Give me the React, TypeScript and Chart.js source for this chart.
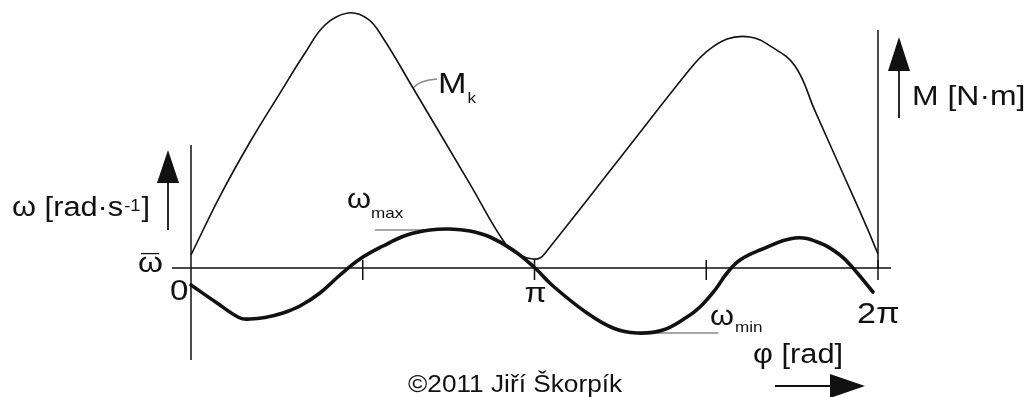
import React, { useEffect, useRef } from "react";
import { Chart, registerables } from "chart.js";

Chart.register(...registerables);

// Crank angle φ in multiples of π for the torque curve M_k
const phiM = [0, 0.0844, 0.1718, 0.2591, 0.3319, 0.3901, 0.4571, 0.5153, 0.559, 0.6463, 0.8122, 0.9199, 0.9636, 0.9956, 1.016, 1.0335, 1.2489, 1.4527, 1.4964, 1.5604, 1.6274, 1.6856, 1.7584, 1.8166, 1.8894, 1.9622, 2.0];
// Engine torque M_k (relative units)
const torque = [5.1, 28.2, 49.4, 68.6, 84.3, 95.3, 100, 97.6, 90.2, 70.6, 32.9, 8.6, 4.7, 3.5, 3.9, 6.3, 43.1, 78.0, 84.3, 89.8, 90.6, 87.1, 79.2, 61.6, 39.6, 17.6, 5.5];
// Index of the torque point carrying the M_k label
const torqueLabelIndex = 9;

// Crank angle φ in multiples of π for the angular velocity curve
const phiW = [0, 0.0757, 0.1426, 0.1718, 0.2154, 0.2678, 0.3173, 0.3755, 0.4338, 0.492, 0.559, 0.6288, 0.6958, 0.754, 0.8122, 0.8705, 0.9374, 1.0015, 1.0539, 1.1528, 1.2285, 1.2984, 1.3741, 1.444, 1.4818, 1.5255, 1.5604, 1.5983, 1.6565, 1.7584, 1.8311, 1.8894, 1.9272, 1.9854];
// Deviation of ω from the mean ω̄ (relative units)
const omegaDev = [-1.7, -3.5, -5.0, -5.1, -4.95, -4.5, -3.8, -2.5, -0.7, 0.9, 2.2, 3.3, 3.8, 3.9, 3.7, 3.1, 1.8, 0, -1.8, -4.5, -6.0, -6.5, -6.2, -4.9, -3.9, -2.2, -0.5, 0.8, 1.8, 3.0, 2.5, 1.3, 0, -2.4];

// Tick marks on the φ axis (multiples of π) and their labels
const tickValues = [0.5, 1, 1.5, 2];
const tickLabels = ["0", "π", "2π"];

// Extent of the vertical axes
const omegaAxisRange = [-9.2, 12.3];
const torqueAxisTop = 93.3;

const FONT = '"Liberation Sans", Arial, sans-serif';
const SX = 1.14; // horizontal stretch of the lettering
const INK = "#111";
const LEADER = "#8a8a8a";

function txt(ctx: CanvasRenderingContext2D, s: string, x: number, y: number, size: number, align: "left" | "center" = "left") {
  ctx.save();
  ctx.font = `${size}px ${FONT}`;
  const w = ctx.measureText(s).width * SX;
  const left = align === "center" ? x - w / 2 : x;
  ctx.translate(left, y);
  ctx.scale(SX, 1);
  ctx.textAlign = "left";
  ctx.textBaseline = "alphabetic";
  ctx.fillStyle = INK;
  ctx.fillText(s, 0, 0);
  ctx.restore();
  return left + w;
}

function arrow(ctx: CanvasRenderingContext2D, x1: number, y1: number, x2: number, y2: number, head: number, half: number) {
  const dx = x2 - x1, dy = y2 - y1;
  const len = Math.hypot(dx, dy);
  const ux = dx / len, uy = dy / len;
  const bx = x2 - ux * head, by = y2 - uy * head;
  ctx.beginPath();
  ctx.moveTo(x1, y1);
  ctx.lineTo(bx, by);
  ctx.stroke();
  ctx.beginPath();
  ctx.moveTo(x2, y2);
  ctx.lineTo(bx - uy * half, by + ux * half);
  ctx.lineTo(bx + uy * half, by - ux * half);
  ctx.closePath();
  ctx.fill();
}

const diagramPlugin = {
  id: "diagram",
  beforeDatasetsDraw(chart: any) {
    const ctx: CanvasRenderingContext2D = chart.ctx;
    const x = chart.scales.x, yW = chart.scales.yW, yM = chart.scales.yM;
    const x0 = x.getPixelForValue(0), x2 = x.getPixelForValue(2);
    const y0 = yW.getPixelForValue(0);
    ctx.save();
    ctx.strokeStyle = INK;
    ctx.fillStyle = INK;
    ctx.lineWidth = 1.5;
    // φ axis
    ctx.beginPath();
    ctx.moveTo(x0 - 19, y0);
    ctx.lineTo(x2 + 13, y0);
    // ω axis
    ctx.moveTo(x0, yW.getPixelForValue(omegaAxisRange[1]));
    ctx.lineTo(x0, yW.getPixelForValue(omegaAxisRange[0]));
    // M axis
    ctx.moveTo(x2, yM.getPixelForValue(torqueAxisTop));
    ctx.lineTo(x2, y0);
    ctx.stroke();
    // ticks
    ctx.beginPath();
    tickValues.forEach((v) => {
      const px = x.getPixelForValue(v);
      ctx.moveTo(px, y0 - 8);
      ctx.lineTo(px, y0 + 12);
    });
    ctx.stroke();
    // arrows
    ctx.lineWidth = 1.8;
    arrow(ctx, x0 - 23, y0 - 38, x0 - 23, y0 - 118, 33, 11);
    arrow(ctx, x2 + 21, y0 - 150, x2 + 21, y0 - 231, 34, 11);
    arrow(ctx, x2 - 103, y0 + 118, x2 - 13, y0 + 118, 35, 12);

    // leader lines
    ctx.strokeStyle = LEADER;
    ctx.lineWidth = 1.5;
    const iMax = omegaDev.indexOf(Math.max(...omegaDev));
    const iMin = omegaDev.indexOf(Math.min(...omegaDev));
    const yMax = yW.getPixelForValue(omegaDev[iMax]);
    const yMin = yW.getPixelForValue(omegaDev[iMin]);
    ctx.beginPath();
    ctx.moveTo(x.getPixelForValue(0.535), yMax + 1);
    ctx.lineTo(x.getPixelForValue(phiW[iMax]) - 25, yMax + 1);
    ctx.moveTo(x.getPixelForValue(phiW[iMin]), yMin);
    ctx.lineTo(x.getPixelForValue(1.535), yMin);
    const mx = x.getPixelForValue(phiM[torqueLabelIndex]);
    const my = yM.getPixelForValue(torque[torqueLabelIndex]);
    ctx.moveTo(mx, my);
    ctx.quadraticCurveTo(mx + 7, my - 8, mx + 24, my - 9);
    ctx.stroke();
    ctx.restore();
  },
  afterDatasetsDraw(chart: any) {
    const ctx: CanvasRenderingContext2D = chart.ctx;
    const x = chart.scales.x, yW = chart.scales.yW;
    const x0 = x.getPixelForValue(0), x1 = x.getPixelForValue(1), x2 = x.getPixelForValue(2);
    const y0 = yW.getPixelForValue(0);
    ctx.save();
    // ω axis title with superscript
    let e = txt(ctx, "ω [rad·s", 12, 216, 27);
    e = txt(ctx, "-1", e + 1, 211, 16);
    txt(ctx, "]", e + 1, 216, 27);
    // mean value
    txt(ctx, "ω", 138, y0 + 4, 28);
    txt(ctx, "¯", 150, y0 + 6, 28, "center");
    // φ tick labels
    txt(ctx, tickLabels[0], x0 - 21, y0 + 32, 29);
    txt(ctx, tickLabels[1], x1 + 1, y0 + 34, 28, "center");
    txt(ctx, tickLabels[2], x2 - 21, y0 + 55, 30);
    // extreme annotations
    e = txt(ctx, "ω", 347, 208, 27);
    txt(ctx, "max", e, 218, 15);
    e = txt(ctx, "ω", 710, 325, 27);
    txt(ctx, "min", e + 1, 332, 15);
    // torque label
    e = txt(ctx, "M", 438, 93, 30);
    txt(ctx, "k", e + 1, 103, 15);
    // axis titles
    txt(ctx, "φ [rad]", 753, 363, 27);
    txt(ctx, "M [N·m]", 912, 105, 28);
    // credit
    txt(ctx, "©2011 Jiří Škorpík", 408, 392, 23);
    ctx.restore();
  },
};

export default function App() {
  const ref = useRef<HTMLCanvasElement | null>(null);
  useEffect(() => {
    if (!ref.current) return;
    const chart = new Chart(ref.current, {
      type: "line",
      data: {
        datasets: [
          {
            label: "M_k",
            data: phiM.map((p, i) => ({ x: p, y: torque[i] })),
            yAxisID: "yM",
            borderColor: INK,
            borderWidth: 1.6,
            pointRadius: 0,
            tension: 0.4,
            fill: false,
            clip: false,
          },
          {
            label: "ω",
            data: phiW.map((p, i) => ({ x: p, y: omegaDev[i] })),
            yAxisID: "yW",
            borderColor: INK,
            borderWidth: 3.6,
            borderCapStyle: "round",
            borderJoinStyle: "round",
            pointRadius: 0,
            tension: 0.4,
            fill: false,
            clip: false,
          },
        ],
      } as any,
      options: {
        responsive: false,
        animation: false,
        events: [],
        layout: { padding: { left: 191, right: 146, top: 0, bottom: 0 } },
        plugins: { legend: { display: false }, tooltip: { enabled: false } },
        scales: {
          x: { type: "linear", min: 0, max: 2, display: false },
          yM: { type: "linear", min: -50.6, max: 105.1, display: false },
          yW: { type: "linear", min: -12.9, max: 26.8, display: false },
        },
      } as any,
      plugins: [diagramPlugin],
    });
    return () => chart.destroy();
  }, []);
  return (
    <div style={{ position: "fixed", left: 0, top: 0, width: 1024, height: 397, background: "#fff" }}>
      <canvas ref={ref} width={1024} height={397} style={{ display: "block", width: 1024, height: 397 }} />
    </div>
  );
}
